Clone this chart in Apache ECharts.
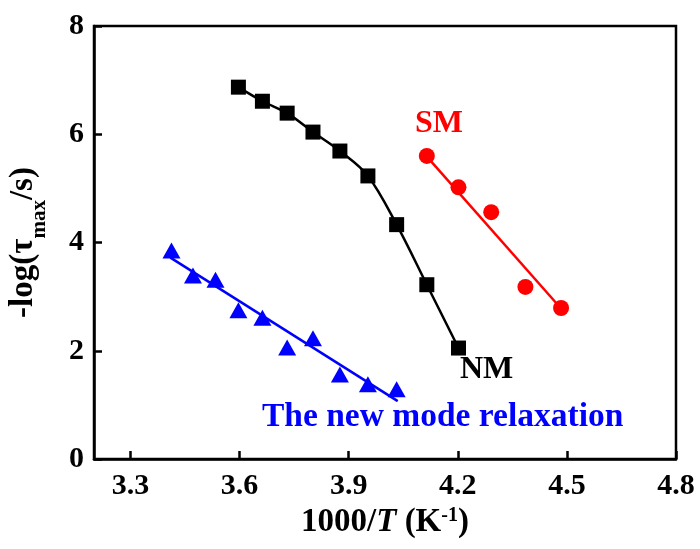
<!DOCTYPE html>
<html>
<head>
<meta charset="utf-8">
<script src="https://cdn.jsdelivr.net/npm/echarts@6/dist/echarts.min.js"></script>
<style>
  html, body { margin: 0; padding: 0; background: #fff; }
  #chart { width: 700px; height: 549px; }
</style>
</head>
<body>
<div id="chart"></div>
<script>
// 1000/T values and -log(tau_max)
const nmX = [3.597, 3.663, 3.731, 3.802, 3.876, 3.953, 4.032, 4.115, 4.202]
const nmY = [6.87, 6.61, 6.39, 6.04, 5.69, 5.23, 4.33, 3.22, 2.05]

const smX = [4.115, 4.202, 4.292, 4.386, 4.484]
const smY = [5.60, 5.02, 4.56, 3.18, 2.79]
const smFitX = [4.12, 4.484]
const smFitY = [5.55, 2.78]

const newX = [3.413, 3.472, 3.534, 3.597, 3.663, 3.731, 3.802, 3.876, 3.953, 4.032]
const newY = [3.85, 3.39, 3.31, 2.75, 2.61, 2.06, 2.23, 1.56, 1.38, 1.29]
const newFitX = [3.41, 4.035]
const newFitY = [3.72, 1.07]

const xTicks = [3.3, 3.6, 3.9, 4.2, 4.5, 4.8]

const FONT = '"Liberation Serif", "Times New Roman", serif'
const zip = (xs, ys) => xs.map((x, i) => [x, ys[i]])

const chart = echarts.init(document.getElementById('chart'))

chart.setOption({
  animation: false,
  grid: {
    left: 94, right: 24, top: 26, bottom: 90,
    outerBoundsMode: 'none', containLabel: false,
    show: true, borderColor: '#000', borderWidth: 2.5
  },
  xAxis: {
    type: 'value', min: 3.2, max: 4.8,
    name: '{a|1000/}{i|T}{a| (K}{s|-1}{a|)}',
    nameLocation: 'middle', nameGap: 43,
    nameTextStyle: {
      rich: {
        a: { fontFamily: FONT, fontWeight: 'bold', fontSize: 33, color: '#000' },
        i: { fontFamily: FONT, fontWeight: 'bold', fontStyle: 'italic', fontSize: 33, color: '#000' },
        s: { fontFamily: FONT, fontWeight: 'bold', fontSize: 20, color: '#000', verticalAlign: 'top' }
      }
    },
    axisLine: { lineStyle: { color: '#000', width: 2.5 } },
    axisTick: { inside: true, length: 8, lineStyle: { width: 2.5 }, customValues: xTicks },
    axisLabel: {
      customValues: xTicks, margin: 12,
      fontFamily: FONT, fontWeight: 'bold', fontSize: 30, color: '#000',
      formatter: v => v.toFixed(1)
    },
    splitLine: { show: false }
  },
  yAxis: {
    type: 'value', min: 0, max: 8, interval: 2,
    name: '{a|-log(τ}{b|max}{a|/s)}',
    nameLocation: 'middle', nameGap: 44, nameRotate: 90,
    nameTextStyle: {
      rich: {
        a: { fontFamily: FONT, fontWeight: 'bold', fontSize: 33, lineHeight: 36, color: '#000', verticalAlign: 'top' },
        b: { fontFamily: FONT, fontWeight: 'bold', fontSize: 21, lineHeight: 43, color: '#000', verticalAlign: 'bottom' }
      }
    },
    axisLine: { lineStyle: { color: '#000', width: 2.5 } },
    axisTick: { inside: true, length: 8, lineStyle: { width: 2.5 } },
    axisLabel: {
      margin: 10,
      fontFamily: FONT, fontWeight: 'bold', fontSize: 30, color: '#000'
    },
    splitLine: { show: false }
  },
  series: [
    {
      type: 'line', data: zip(smFitX, smFitY), showSymbol: false,
      lineStyle: { color: '#ff0000', width: 2.5 }, z: 2
    },
    {
      type: 'line', data: zip(newFitX, newFitY), showSymbol: false,
      lineStyle: { color: '#0000ff', width: 2.5 }, z: 2
    },
    {
      name: 'NM', type: 'line', data: zip(nmX, nmY), smooth: 0.35,
      symbol: 'rect', symbolSize: 15,
      itemStyle: { color: '#000' }, lineStyle: { color: '#000', width: 2.5 }, z: 3
    },
    {
      name: 'SM', type: 'scatter', data: zip(smX, smY),
      symbol: 'circle', symbolSize: 16, itemStyle: { color: '#ff0000', opacity: 1 }, z: 4
    },
    {
      name: 'new', type: 'scatter', data: zip(newX, newY),
      symbol: 'triangle', symbolSize: [18, 16], itemStyle: { color: '#0000ff', opacity: 1 }, z: 4
    }
  ],
  graphic: [
    {
      type: 'text', left: 415, top: 108,
      style: { text: 'SM', font: 'bold 32px ' + FONT, fill: '#ff0000' }
    },
    {
      type: 'text', left: 460, top: 354,
      style: { text: 'NM', font: 'bold 32px ' + FONT, fill: '#000' }
    },
    {
      type: 'text', left: 262, top: 400,
      style: { text: 'The new mode relaxation', font: 'bold 33.5px ' + FONT, fill: '#0000ff' }
    }
  ]
})
</script>
</body>
</html>
